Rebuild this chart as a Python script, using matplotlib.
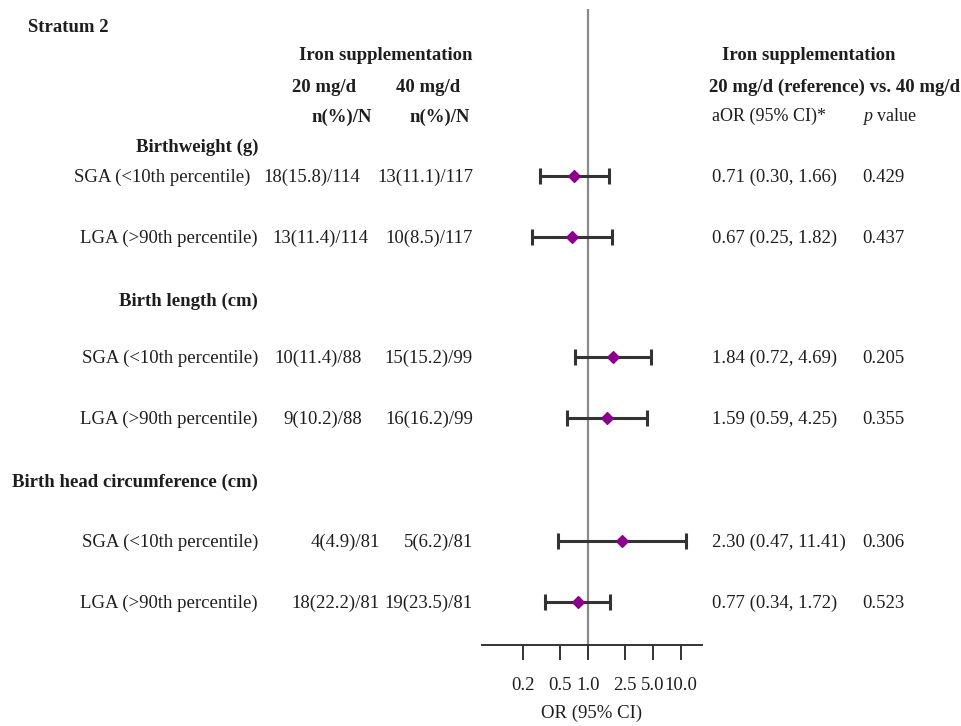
import matplotlib
matplotlib.use("Agg")
import matplotlib.pyplot as plt

plt.rcParams['font.family'] = ['Liberation Serif', 'DejaVu Serif']

# data
sections = ["Birthweight (g)", "Birth length (cm)", "Birth head circumference (cm)"]
outcomes = ["SGA (<10th percentile)", "LGA (>90th percentile)",
            "SGA (<10th percentile)", "LGA (>90th percentile)",
            "SGA (<10th percentile)", "LGA (>90th percentile)"]
n_20mg = ["18(15.8)/114", "13(11.4)/114", "10(11.4)/88", "9(10.2)/88", "4(4.9)/81", "18(22.2)/81"]
n_40mg = ["13(11.1)/117", "10(8.5)/117", "15(15.2)/99", "16(16.2)/99", "5(6.2)/81", "19(23.5)/81"]
aor = [0.71, 0.67, 1.84, 1.59, 2.30, 0.77]
ci_low = [0.30, 0.25, 0.72, 0.59, 0.47, 0.34]
ci_high = [1.66, 1.82, 4.69, 4.25, 11.41, 1.72]
p_values = ["0.429", "0.437", "0.205", "0.355", "0.306", "0.523"]
ticks = [0.2, 0.5, 1.0, 2.5, 5.0, 10.0]
tick_labels = ["0.2", "0.5", "1.0", "2.5", "5.0", "10.0"]

W, H = 962, 726
# layout (pixel rows)
row_y = [176, 237, 357, 418, 541, 602]
section_y = [146, 300, 481]
label_right = [250, 258, 258, 258, 258, 258]
col1_right = [360, 368, 362, 362, 380, 380]

fig = plt.figure(figsize=(W / 100, H / 100), dpi=100)

def px(x, y):
    return x / W, 1 - y / H

fs = 13.5
txt = '#1e1e1e'
base = 6  # baseline offset from row centre, px

# forest plot axes
ax = fig.add_axes([482 / W, (H - 645) / H, 220 / W, 636 / H])
ax.set_xscale('log')
ax.set_xlim(0.072, 16.8)
ax.set_ylim(645, 9)
ax.axvline(1.0, color='#8a8a8a', lw=1.6, zorder=1)
for y, m, lo, hi in zip(row_y, aor, ci_low, ci_high):
    ax.errorbar(m, y, xerr=[[m - lo], [hi - m]], fmt='none', ecolor='#333333',
                elinewidth=2.2, capsize=6, capthick=2.2, zorder=2)
ax.scatter(aor, row_y, marker='D', s=36, color='#8b008b', zorder=3)
for s in ['top', 'left', 'right']:
    ax.spines[s].set_visible(False)
ax.spines['bottom'].set_color('#333333')
ax.spines['bottom'].set_linewidth(1.4)
ax.set_yticks([])
ax.set_xticks(ticks)
ax.set_xticklabels(tick_labels, fontsize=fs, color=txt)
ax.minorticks_off()
ax.tick_params(axis='x', length=11, width=1.4, color='#333333', pad=12)
ax.set_xlabel("OR (95% CI)", fontsize=fs, color=txt, labelpad=8)
ax.patch.set_alpha(0)

# headers
fig.text(*px(28, 28), "Stratum 2", fontsize=fs, fontweight='bold', color=txt, va='center')
fig.text(*px(473, 56), "Iron supplementation", fontsize=fs, fontweight='bold', color=txt, va='center', ha='right')
fig.text(*px(292, 87), "20 mg/d", fontsize=fs, fontweight='bold', color=txt, va='center')
fig.text(*px(396, 87), "40 mg/d", fontsize=fs, fontweight='bold', color=txt, va='center')
fig.text(*px(372, 117), "n(%)/N", fontsize=fs, fontweight='bold', color=txt, va='center', ha='right')
fig.text(*px(470, 117), "n(%)/N", fontsize=fs, fontweight='bold', color=txt, va='center', ha='right')

fig.text(*px(809, 56), "Iron supplementation", fontsize=fs, fontweight='bold', color=txt, va='center', ha='center')
fig.text(*px(960, 87), "20 mg/d (reference) vs. 40 mg/d", fontsize=fs, fontweight='bold', color=txt, va='center', ha='right')
fig.text(*px(712, 121), "aOR (95% CI)*", fontsize=fs - 0.5, color=txt, va='baseline')
fig.text(*px(863, 121), "p", fontsize=fs - 0.5, style='italic', color=txt, va='baseline')
fig.text(*px(877, 121), "value", fontsize=fs - 0.5, color=txt, va='baseline')

for name, y in zip(sections, section_y):
    fig.text(*px(258, y + base), name, fontsize=fs, fontweight='bold', color=txt, va='baseline', ha='right')

for i, y in enumerate(row_y):
    yb = y + base
    fig.text(*px(label_right[i], yb), outcomes[i], fontsize=fs, color=txt, va='baseline', ha='right')
    fig.text(*px(col1_right[i], yb), n_20mg[i], fontsize=fs, color=txt, va='baseline', ha='right')
    fig.text(*px(473, yb), n_40mg[i], fontsize=fs, color=txt, va='baseline', ha='right')
    fig.text(*px(712, yb), f"{aor[i]:.2f} ({ci_low[i]:.2f}, {ci_high[i]:.2f})",
             fontsize=fs, color=txt, va='baseline')
    fig.text(*px(862, yb), p_values[i], fontsize=fs, color=txt, va='baseline')

fig.savefig("out.png", dpi=100)
